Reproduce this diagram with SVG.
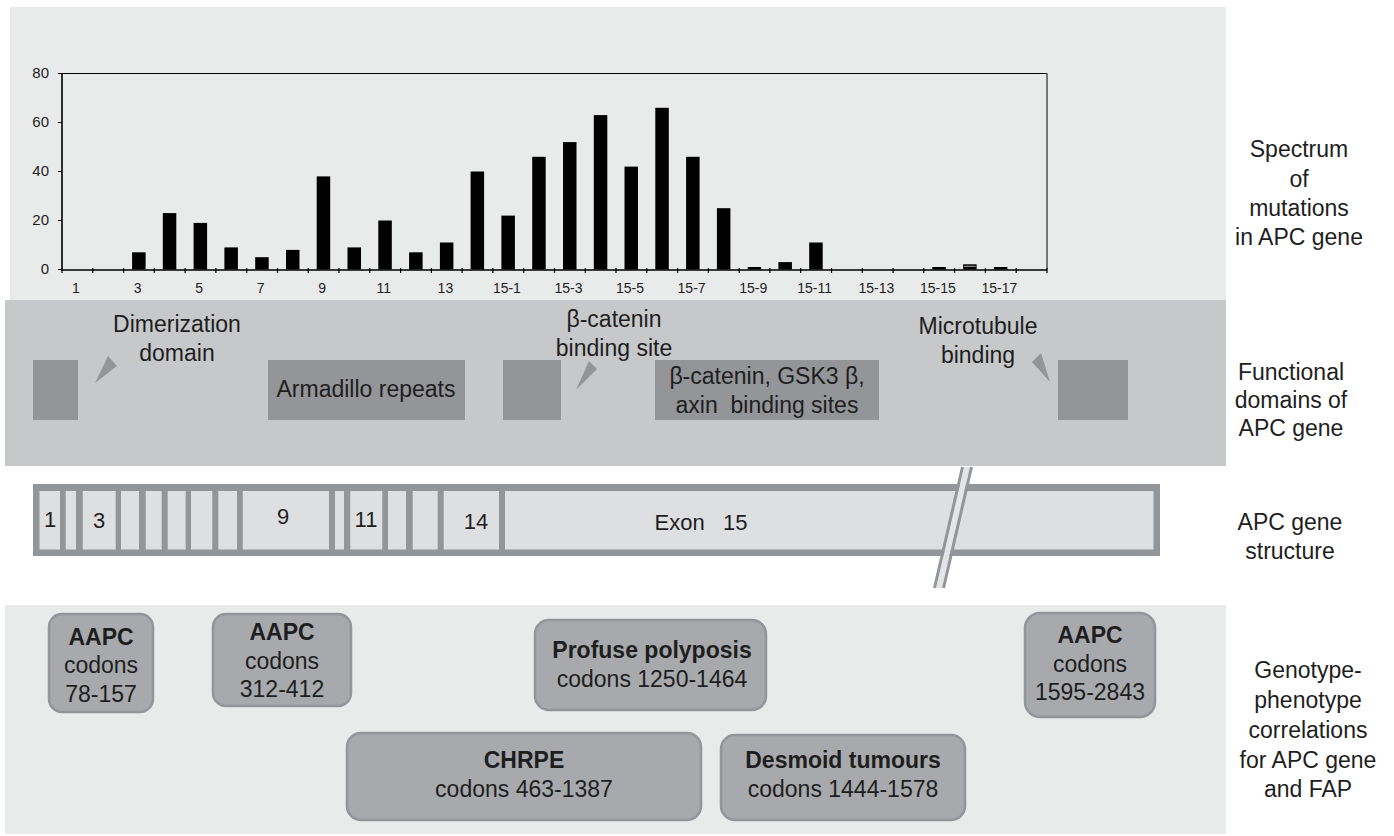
<svg xmlns="http://www.w3.org/2000/svg" width="1394" height="836" viewBox="0 0 1394 836">
<style>
text{font-family:"Liberation Sans",Arial,sans-serif;fill:#1e1e1e}
.lab{font-size:23px;text-anchor:middle}
.ax{font-size:15px;text-anchor:end}
.axx{font-size:14px;text-anchor:middle}
.dom{fill:#939598}
.ptr{fill:#939598}
.pbox{fill:#a7a9ac;stroke:#939598;stroke-width:2.5}
.bt{font-size:23px;text-anchor:middle}
.b{font-weight:bold}
.bar{fill:#000}
.gn{font-size:22px;text-anchor:middle}
.cell{fill:#dedfe1}
</style>
<rect width="1394" height="836" fill="#fff"/>
<!-- panels -->
<rect x="10" y="7" width="1216" height="293" fill="#e9eaea"/>
<rect x="5" y="300" width="1221" height="166" fill="#c7c8ca"/>
<rect x="5" y="605" width="1221" height="229" fill="#e9eaea"/>

<g id="chart">
  <path d="M62,73.5H1047V269.5" fill="none" stroke="#000" stroke-width="1"/>
  <path d="M62,73V270H1047" fill="none" stroke="#000" stroke-width="1.6"/>
  <path d="M58,73.5H62M58,122.5H62M58,171.5H62M58,220.5H62M58,269.5H62" stroke="#000" stroke-width="1.2"/>
  <path d="M62,268V273M92.8,268V273M123.6,268V273M154.3,268V273M185.1,268V273M215.9,268V273M246.7,268V273M277.5,268V273M308.2,268V273M339,268V273M369.8,268V273M400.6,268V273M431.4,268V273M462.1,268V273M492.9,268V273M523.7,268V273M554.5,268V273M585.3,268V273M616,268V273M646.8,268V273M677.6,268V273M708.4,268V273M739.2,268V273M769.9,268V273M800.7,268V273M831.5,268V273M862.3,268V273M893.1,268V273M923.8,268V273M954.6,268V273M985.4,268V273M1016.2,268V273M1047,268V273" stroke="#000" stroke-width="1.2"/>
  <text class="ax" x="49" y="78">80</text>
  <text class="ax" x="49" y="127">60</text>
  <text class="ax" x="49" y="176">40</text>
  <text class="ax" x="49" y="225">20</text>
  <text class="ax" x="49" y="274">0</text>
  <g>
    <rect class="bar" x="132.1" y="252.3" width="13.5" height="17.2"/>
    <rect class="bar" x="162.8" y="213.1" width="13.5" height="56.4"/>
    <rect class="bar" x="193.6" y="222.9" width="13.5" height="46.6"/>
    <rect class="bar" x="224.4" y="247.4" width="13.5" height="22.1"/>
    <rect class="bar" x="255.2" y="257.2" width="13.5" height="12.3"/>
    <rect class="bar" x="286" y="249.9" width="13.5" height="19.6"/>
    <rect class="bar" x="316.7" y="176.4" width="13.5" height="93.1"/>
    <rect class="bar" x="347.5" y="247.4" width="13.5" height="22.1"/>
    <rect class="bar" x="378.3" y="220.5" width="13.5" height="49"/>
    <rect class="bar" x="409.1" y="252.3" width="13.5" height="17.2"/>
    <rect class="bar" x="439.9" y="242.5" width="13.5" height="27"/>
    <rect class="bar" x="470.6" y="171.5" width="13.5" height="98"/>
    <rect class="bar" x="501.4" y="215.6" width="13.5" height="53.9"/>
    <rect class="bar" x="532.2" y="156.8" width="13.5" height="112.7"/>
    <rect class="bar" x="563" y="142.1" width="13.5" height="127.4"/>
    <rect class="bar" x="593.8" y="115.1" width="13.5" height="154.4"/>
    <rect class="bar" x="624.5" y="166.6" width="13.5" height="102.9"/>
    <rect class="bar" x="655.3" y="107.8" width="13.5" height="161.7"/>
    <rect class="bar" x="686.1" y="156.8" width="13.5" height="112.7"/>
    <rect class="bar" x="716.9" y="208.2" width="13.5" height="61.3"/>
    <rect class="bar" x="747.7" y="267" width="13.5" height="2.5"/>
    <rect class="bar" x="778.4" y="262.1" width="13.5" height="7.4"/>
    <rect class="bar" x="809.2" y="242.5" width="13.5" height="27"/>
    <rect class="bar" x="932.3" y="267" width="13.5" height="2.5"/>
    <rect class="bar" x="963.1" y="264.3" width="13.5" height="5.2"/>
    <line x1="964" y1="266.3" x2="975.7" y2="266.3" stroke="#b0b0b0" stroke-width="1"/>
    <rect class="bar" x="993.9" y="267" width="13.5" height="2.5"/>
  </g>
  <text class="axx" x="76" y="293">1</text>
  <text class="axx" x="137.6" y="293">3</text>
  <text class="axx" x="199.1" y="293">5</text>
  <text class="axx" x="260.7" y="293">7</text>
  <text class="axx" x="322.2" y="293">9</text>
  <text class="axx" x="383.8" y="293">11</text>
  <text class="axx" x="445.4" y="293">13</text>
  <text class="axx" x="506.9" y="293">15-1</text>
  <text class="axx" x="568.5" y="293">15-3</text>
  <text class="axx" x="630" y="293">15-5</text>
  <text class="axx" x="691.6" y="293">15-7</text>
  <text class="axx" x="753.2" y="293">15-9</text>
  <text class="axx" x="814.7" y="293">15-11</text>
  <text class="axx" x="876.3" y="293">15-13</text>
  <text class="axx" x="937.8" y="293">15-15</text>
  <text class="axx" x="999.4" y="293">15-17</text>
</g>

<g id="row-labels">
  <text class="lab" x="1299" y="157">Spectrum</text>
  <text class="lab" x="1299" y="187">of</text>
  <text class="lab" x="1299" y="216">mutations</text>
  <text class="lab" x="1299" y="245">in APC gene</text>
  <text class="lab" x="1291" y="380">Functional</text>
  <text class="lab" x="1291" y="408">domains of</text>
  <text class="lab" x="1291" y="436">APC gene</text>
  <text class="lab" x="1290" y="530">APC gene</text>
  <text class="lab" x="1290" y="559">structure</text>
  <text class="lab" x="1308" y="678">Genotype-</text>
  <text class="lab" x="1308" y="708">phenotype</text>
  <text class="lab" x="1308" y="738">correlations</text>
  <text class="lab" x="1308" y="768">for APC gene</text>
  <text class="lab" x="1308" y="797">and FAP</text>
</g>

<g id="dimerization-domain">
  <rect class="dom" x="33" y="360" width="45" height="60"/>
  <text class="lab" x="177" y="332">Dimerization</text>
  <text class="lab" x="177" y="361">domain</text>
</g>
<g id="armadillo-repeats">
  <rect class="dom" x="268" y="360" width="197" height="60"/>
  <text class="lab" x="366" y="397">Armadillo repeats</text>
</g>
<g id="beta-catenin-binding-site">
  <rect class="dom" x="503" y="360" width="58" height="60"/>
  <text class="lab" x="614" y="327">β-catenin</text>
  <text class="lab" x="614" y="356">binding site</text>
</g>
<g id="beta-catenin-gsk3-axin">
  <rect class="dom" x="655" y="360" width="224" height="60"/>
  <text class="lab" x="767" y="384">β-catenin, GSK3 β,</text>
  <text class="lab" x="767" y="413" xml:space="preserve">axin  binding sites</text>
</g>
<g id="microtubule-binding">
  <rect class="dom" x="1058" y="360" width="70" height="60"/>
  <text class="lab" x="978" y="334">Microtubule</text>
  <text class="lab" x="978" y="363">binding</text>
</g>

<g id="gene-structure">
  <rect x="33" y="484" width="1127" height="72" fill="#939598"/>
  <rect class="cell" x="39.5" y="491" width="20.5" height="58.5"/>
  <rect class="cell" x="65.7" y="491" width="10.3" height="58.5"/>
  <rect class="cell" x="82.7" y="491" width="33" height="58.5"/>
  <rect class="cell" x="121" y="491" width="18" height="58.5"/>
  <rect class="cell" x="145.7" y="491" width="16" height="58.5"/>
  <rect class="cell" x="167.7" y="491" width="18" height="58.5"/>
  <rect class="cell" x="191" y="491" width="21.3" height="58.5"/>
  <rect class="cell" x="218.3" y="491" width="18.7" height="58.5"/>
  <rect class="cell" x="242.7" y="491" width="86.3" height="58.5"/>
  <rect class="cell" x="335" y="491" width="9" height="58.5"/>
  <rect class="cell" x="350.3" y="491" width="32" height="58.5"/>
  <rect class="cell" x="388" y="491" width="18" height="58.5"/>
  <rect class="cell" x="412.7" y="491" width="25" height="58.5"/>
  <rect class="cell" x="443.7" y="491" width="55.3" height="58.5"/>
  <rect class="cell" x="505" y="491" width="648.5" height="58.5"/>
  <text class="gn" x="50" y="527">1</text>
  <text class="gn" x="99" y="528">3</text>
  <text class="gn" x="283" y="524">9</text>
  <text class="gn" x="366" y="527">11</text>
  <text class="gn" x="476" y="529">14</text>
  <text class="gn" x="701" y="530" xml:space="preserve">Exon   15</text>
</g>

<g id="break-mark">
  <polygon points="964,467 970,467 942,588 936,588" fill="#e4e5e6"/>
  <line x1="962.5" y1="467" x2="934.5" y2="588" stroke="#939598" stroke-width="3"/>
  <line x1="971.5" y1="467" x2="943.5" y2="588" stroke="#939598" stroke-width="3"/>
</g>

<g id="connectors">
  <polygon class="ptr" points="95,383 108,356 117,366"/>
  <polygon class="ptr" points="576,390 589,361 597,369"/>
  <polygon class="ptr" points="1050,382 1032,362 1041,353"/>
</g>

<g id="aapc-78-157">
  <rect class="pbox" x="49" y="614" width="104" height="98" rx="13"/>
  <text class="bt b" x="101" y="645">AAPC</text>
  <text class="bt" x="101" y="673">codons</text>
  <text class="bt" x="101" y="702">78-157</text>
</g>
<g id="aapc-312-412">
  <rect class="pbox" x="213" y="614" width="138" height="92" rx="13"/>
  <text class="bt b" x="282" y="640">AAPC</text>
  <text class="bt" x="282" y="669">codons</text>
  <text class="bt" x="282" y="697">312-412</text>
</g>
<g id="profuse-polyposis">
  <rect class="pbox" x="535" y="620" width="231" height="90" rx="14"/>
  <text class="bt b" x="652" y="658">Profuse polyposis</text>
  <text class="bt" x="652" y="687">codons 1250-1464</text>
</g>
<g id="aapc-1595-2843">
  <rect class="pbox" x="1025" y="613" width="130" height="104" rx="15"/>
  <text class="bt b" x="1090" y="643">AAPC</text>
  <text class="bt" x="1090" y="672">codons</text>
  <text class="bt" x="1090" y="700">1595-2843</text>
</g>
<g id="chrpe">
  <rect class="pbox" x="347" y="733" width="354" height="87" rx="14"/>
  <text class="bt b" x="524" y="768">CHRPE</text>
  <text class="bt" x="524" y="797">codons 463-1387</text>
</g>
<g id="desmoid-tumours">
  <rect class="pbox" x="721" y="735" width="244" height="85" rx="14"/>
  <text class="bt b" x="843" y="768">Desmoid tumours</text>
  <text class="bt" x="843" y="797">codons 1444-1578</text>
</g>
</svg>
